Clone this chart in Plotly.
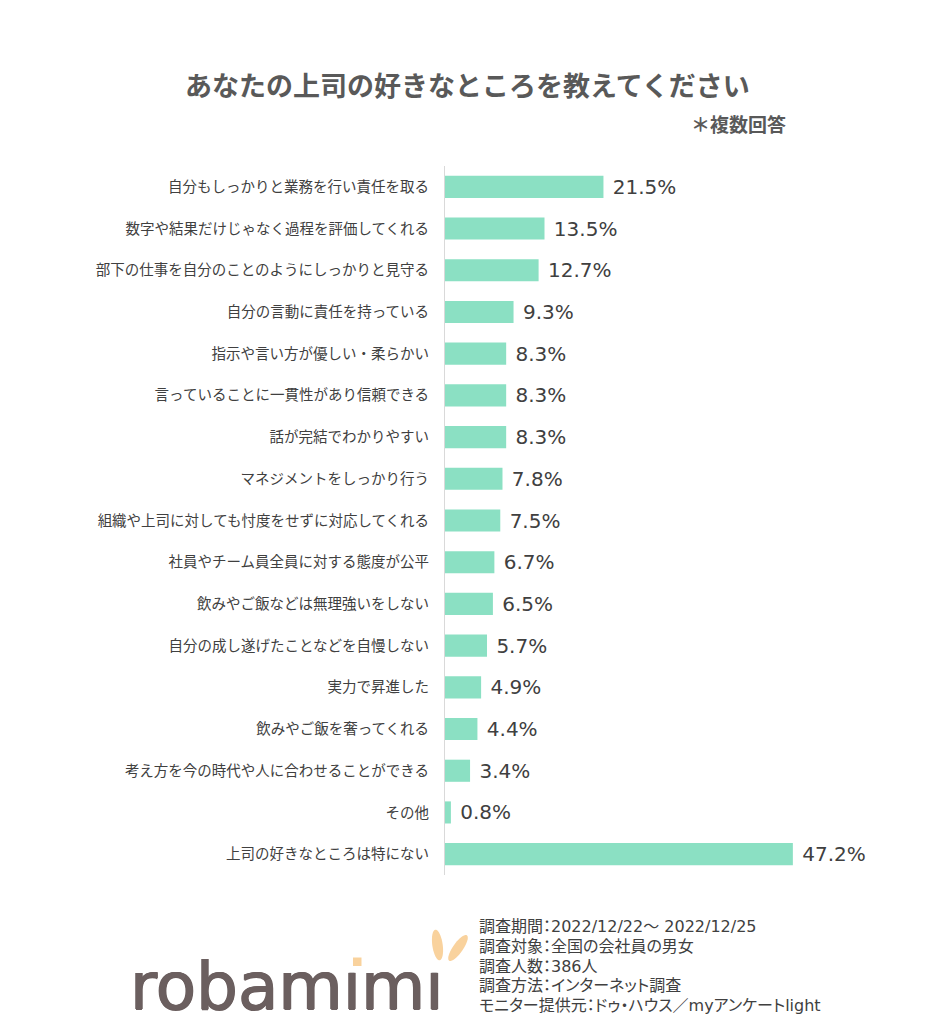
import math
import plotly.graph_objects as go

categories = [
    "自分もしっかりと業務を行い責任を取る",
    "数字や結果だけじゃなく過程を評価してくれる",
    "部下の仕事を自分のことのようにしっかりと見守る",
    "自分の言動に責任を持っている",
    "指示や言い方が優しい・柔らかい",
    "言っていることに一貫性があり信頼できる",
    "話が完結でわかりやすい",
    "マネジメントをしっかり行う",
    "組織や上司に対しても忖度をせずに対応してくれる",
    "社員やチーム員全員に対する態度が公平",
    "飲みやご飯などは無理強いをしない",
    "自分の成し遂げたことなどを自慢しない",
    "実力で昇進した",
    "飲みやご飯を奢ってくれる",
    "考え方を今の時代や人に合わせることができる",
    "その他",
    "上司の好きなところは特にない",
]
values = [21.5, 13.5, 12.7, 9.3, 8.3, 8.3, 8.3, 7.8, 7.5, 6.7, 6.5, 5.7, 4.9, 4.4, 3.4, 0.8, 47.2]

title_text = "あなたの上司の好きなところを教えてください"
subtitle_text = "＊複数回答"
footer_lines = [
    "調査期間：2022/12/22～ 2022/12/25",
    "調査対象：全国の会社員の男女",
    "調査人数：386人",
    "調査方法：インターネット調査",
    "モニター提供元：ドゥ・ハウス／myアンケートlight",
]
logo_text = "robamımı"

# layout geometry (pixels)
FIG_W, FIG_H = 937, 1024
L, R, T, B = 445, 37, 166, 149
PW = FIG_W - L - R
PH = FIG_H - T - B
PX_PER_PCT = 7.37


def px(x):
    return (x - L) / PW


def py(y):
    return (FIG_H - B - y) / PH


JP = "Noto Sans CJK JP"
MIX = "DejaVu Sans, Noto Sans CJK JP"
TXT = "#404040"
BAR = "#8be0c3"
LOGO = "#6b5f5f"
DY = -7  # logo vertical offset (px) so the text box stays inside the page

fig = go.Figure()
fig.add_trace(go.Bar(
    x=values,
    y=categories,
    orientation="h",
    marker=dict(color=BAR, line=dict(width=0)),
    text=[f" {v:.1f}%" for v in values],
    textposition="outside",
    constraintext="none",
    textfont=dict(family="DejaVu Sans", size=20, color=TXT),
    cliponaxis=False,
    hoverinfo="skip",
))

annotations = [
    dict(text=f"<b>{title_text}</b>", x=px(467), y=py(85), xref="paper", yref="paper",
         xanchor="center", yanchor="middle", showarrow=False,
         font=dict(family=JP, size=27, color="#595959")),
    dict(text=f"<b>{subtitle_text}</b>", x=px(788), y=py(123), xref="paper", yref="paper",
         xanchor="right", yanchor="middle", showarrow=False,
         font=dict(family=JP, size=19, color="#595959")),
    dict(text=logo_text, x=px(128), y=py(1024), xref="paper", yref="paper",
         xanchor="left", yanchor="bottom", showarrow=False, yshift=-3,
         font=dict(family="DejaVu Sans", size=66, color=LOGO,
                   shadow=f"0.8px 0 0 {LOGO}, -0.8px 0 0 {LOGO}, 0 0.6px 0 {LOGO}")),
]
footer_start = len(annotations)
for i, line in enumerate(footer_lines):
    annotations.append(dict(text=line, x=px(477), y=py(927 + i * 19.5), xref="paper", yref="paper",
                            xanchor="left", yanchor="middle", showarrow=False,
                            font=dict(family=MIX, size=16, color=TXT)))


def ellipse_path(cx, cy, rx, ry, angle_deg, n=40):
    a = math.radians(angle_deg)
    pts = []
    for k in range(n):
        t = 2 * math.pi * k / n
        ex, ey = rx * math.cos(t), ry * math.sin(t)
        xx = cx + ex * math.cos(a) - ey * math.sin(a)
        yy = cy + ex * math.sin(a) + ey * math.cos(a)
        pts.append((px(xx), py(yy)))
    return "M " + " L ".join(f"{x:.5f},{y:.5f}" for x, y in pts) + " Z"


EAR = "#f9d29d"
shapes = [
    dict(type="path", xref="paper", yref="paper", path=ellipse_path(437.5, 952 + DY, 5.2, 15.5, -8),
         fillcolor=EAR, line=dict(width=0), layer="above"),
    dict(type="path", xref="paper", yref="paper", path=ellipse_path(458, 955 + DY, 5.0, 15.5, 35),
         fillcolor=EAR, line=dict(width=0), layer="above"),
    dict(type="rect", xref="paper", yref="paper", x0=px(353), x1=px(361.5),
         y0=py(973 + DY), y1=py(964.5 + DY),
         fillcolor=EAR, line=dict(width=0), layer="above"),
]

fig.update_layout(
    width=FIG_W, height=FIG_H,
    margin=dict(l=L, r=R, t=T, b=B),
    paper_bgcolor="white", plot_bgcolor="white",
    showlegend=False,
    bargap=0.47,
    annotations=annotations,
    shapes=shapes,
    xaxis=dict(range=[0, PW / PX_PER_PCT], visible=False, fixedrange=True),
    yaxis=dict(autorange="reversed", showline=True, linecolor="#d9d9d9", linewidth=1,
               ticks="", showgrid=False, ticklabelstandoff=12,
               tickfont=dict(family=JP, size=14.5, color=TXT), fixedrange=True),
)

# proportional kana spacing for the footer notes (as in the reference);
# each line keeps its left edge after the narrower spacing is applied
selectors = ", ".join(f'g.annotation[data-index="{footer_start + i}"] text.annotation-text'
                      for i in range(len(footer_lines)))
post_js = (
    "try {"
    "var gd=document.getElementById('{plot_id}');"
    "var ts=gd.querySelectorAll('" + selectors + "');"
    "ts.forEach(function(t){"
    "var a=t.getBBox().x;"
    "t.style.fontFeatureSettings='\"palt\" 1';"
    "var b=t.getBBox().x;"
    "var tr=t.getAttribute('transform')||'';"
    "t.setAttribute('transform', tr+' translate('+(a-b)+',0)');"
    "});"
    "} catch(e) {}"
)

fig.write_html("out.html", config={"displayModeBar": False}, post_script=post_js)
